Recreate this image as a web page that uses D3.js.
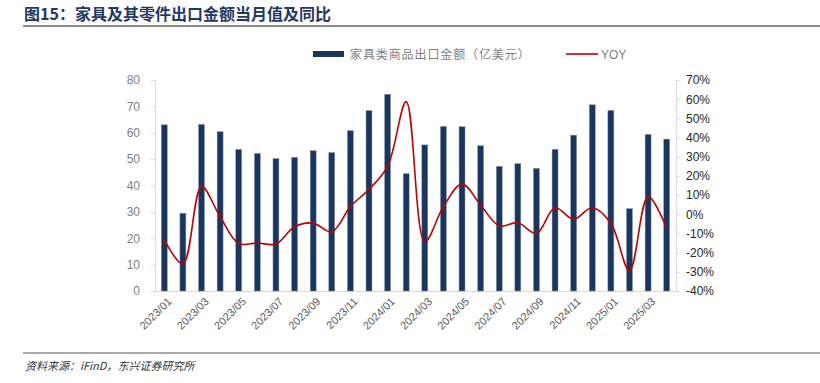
<!DOCTYPE html>
<html>
<head>
<meta charset="utf-8">
<style>
  body { margin: 0; background: #fff; }
  svg { display: block; font-family: "Liberation Sans", Arial, "Noto Sans CJK SC", sans-serif; }
</style>
</head>
<body>
<svg id="chart"></svg>
<script src="https://cdn.jsdelivr.net/npm/d3@7"></script>
<script>
// months shown on the x axis
var months = ['2023/01','2023/02','2023/03','2023/04','2023/05','2023/06','2023/07','2023/08',
  '2023/09','2023/10','2023/11','2023/12','2024/01','2024/02','2024/03','2024/04','2024/05',
  '2024/06','2024/07','2024/08','2024/09','2024/10','2024/11','2024/12','2025/01','2025/02',
  '2025/03','2025/04']

// export value, 亿美元
var exportValue = [63.0, 29.5, 63.2, 60.4, 53.7, 52.2, 50.2, 50.7, 53.2, 52.5, 60.8, 68.4, 74.6,
  44.5, 55.4, 62.4, 62.3, 55.1, 47.3, 48.3, 46.5, 53.7, 59.1, 70.6, 68.5, 31.2, 59.4, 57.6]

// yoy, percent
var yoy = [-13.4, -25.9, 14.4, -1.3, -15.2, -15.0, -15.5, -6.5, -4.6, -9.2, 4.0, 13.0, 25.0,
  58.7, -14.3, 4.0, 15.8, 4.8, -6.0, -4.4, -10.0, 3.4, -2.6, 3.4, -4.7, -29.4, 9.2, -7.3]

var leftTicks = [0, 10, 20, 30, 40, 50, 60, 70, 80]
var rightTicks = [-40, -30, -20, -10, 0, 10, 20, 30, 40, 50, 60, 70]

var width = 820, height = 383
var svg = d3.select('#chart').attr('width', width).attr('height', height)

var plotLeft = 155, plotRight = 676, plotTop = 80, plotBottom = 291

// title
svg.append('text').attr('x', 24).attr('y', 20)
  .attr('font-size', 16).attr('font-weight', 'bold').attr('fill', '#1f3864')
  .attr('font-family', '"Noto Sans CJK SC", sans-serif')
  .text('图15：家具及其零件出口金额当月值及同比')
svg.append('line').attr('x1', 23).attr('x2', 820).attr('y1', 26).attr('y2', 26)
  .attr('stroke', '#8c8c8c').attr('stroke-width', 2)

// scales
var x = d3.scaleBand().domain(months).range([plotLeft, plotRight]).paddingInner(0.68).paddingOuter(0.34)
var yL = d3.scaleLinear().domain([0, 80]).range([plotBottom, plotTop])
var yR = d3.scaleLinear().domain([-40, 70]).range([plotBottom, plotTop])

// axes
var axL = svg.append('g').attr('transform', 'translate(' + plotLeft + ',0)')
  .call(d3.axisLeft(yL).tickValues(leftTicks).tickSize(4).tickPadding(11))
axL.selectAll('text').attr('fill', '#7f7f7f').attr('font-size', 12)

var axR = svg.append('g').attr('transform', 'translate(' + plotRight + ',0)')
  .call(d3.axisRight(yR).tickValues(rightTicks).tickSize(4).tickPadding(6).tickFormat(function(d) { return d + '%' }))
axR.selectAll('text').attr('fill', '#262626').attr('font-size', 12)

var axB = svg.append('g').attr('transform', 'translate(0,' + plotBottom + ')')
  .call(d3.axisBottom(x).tickValues(months.filter(function(d, i) { return i % 2 == 0 })).tickSize(0).tickPadding(8))
axB.selectAll('text').attr('fill', '#595959').attr('font-size', 11)
  .attr('text-anchor', 'end').attr('dx', '-0.2em').attr('dy', '0.5em')
  .attr('transform', 'rotate(-45)')

svg.selectAll('.domain, .tick line').attr('stroke', '#d9d9d9')

// bars
svg.append('g').selectAll('rect').data(exportValue).enter().append('rect')
  .attr('x', function(d, i) { return x(months[i]) })
  .attr('width', x.bandwidth())
  .attr('y', function(d) { return yL(d) })
  .attr('height', function(d) { return yL(0) - yL(d) })
  .attr('fill', '#1b365d')
  .attr('stroke', '#8597b0').attr('stroke-width', 0.5)

// yoy line
var line = d3.line()
  .x(function(d, i) { return x(months[i]) + x.bandwidth() / 2 })
  .y(function(d) { return yR(d) })
  .curve(d3.curveCatmullRom.alpha(0.5))
svg.append('path').datum(yoy).attr('d', line)
  .attr('fill', 'none').attr('stroke', '#c00000').attr('stroke-width', 1.6)

// legend
svg.append('rect').attr('x', 313).attr('y', 51).attr('width', 31).attr('height', 6).attr('fill', '#1b365d')
svg.append('text').attr('x', 350).attr('y', 59).attr('font-size', 12).attr('fill', '#7f7f7f')
  .attr('font-family', '"Noto Sans CJK SC", sans-serif').attr('letter-spacing', 0.9)
  .text('家具类商品出口金额（亿美元）')
svg.append('line').attr('x1', 566).attr('x2', 598).attr('y1', 54).attr('y2', 54)
  .attr('stroke', '#c00000').attr('stroke-width', 1.6)
svg.append('text').attr('x', 601).attr('y', 59).attr('font-size', 12).attr('fill', '#7f7f7f').text('YOY')

// footer
svg.append('line').attr('x1', 23).attr('x2', 820).attr('y1', 353).attr('y2', 353)
  .attr('stroke', '#8c8c8c').attr('stroke-width', 1.5)
svg.append('text').attr('x', 25).attr('y', 370).attr('font-size', 11).attr('fill', '#333')
  .attr('font-style', 'italic').attr('font-family', '"Noto Sans CJK SC", sans-serif')
  .text('资料来源：iFinD，东兴证券研究所')
</script>
</body>
</html>
